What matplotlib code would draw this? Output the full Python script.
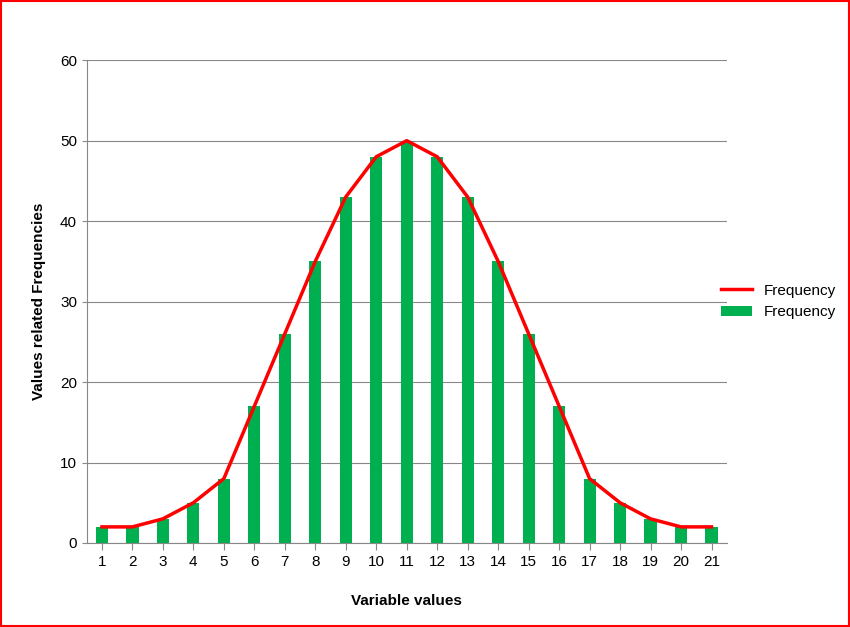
import numpy as np
import matplotlib.pyplot as plt

variable_values = list(range(1, 22))
frequency = [2, 2, 3, 5, 8, 17, 26, 35, 43, 48, 50, 48, 43, 35, 26, 17, 8, 5, 3, 2, 2]

plt.rcParams['font.family'] = ['Liberation Sans', 'DejaVu Sans']

fig = plt.figure(figsize=(8.5, 6.27), dpi=100)
fig.patches.append(plt.Rectangle((0.001, 0.001), 0.998, 0.998, transform=fig.transFigure,
                                 fill=False, edgecolor='red', linewidth=1.5))
ax = fig.add_axes([0.102, 0.134, 0.753, 0.770])

ax.bar(variable_values, frequency, width=0.4, color='#00b050', label='Frequency', zorder=2)
ax.plot(variable_values, frequency, color='red', linewidth=2.5, label='Frequency', zorder=3)

ax.set_xlim(0.5, 21.5)
ax.set_ylim(0, 60)
ax.set_xticks(variable_values)
ax.set_yticks(range(0, 61, 10))
ax.yaxis.grid(True, color='#888888', linewidth=0.8, zorder=0)
ax.set_axisbelow(True)
for s in ['top', 'right']:
    ax.spines[s].set_visible(False)
ax.spines['left'].set_color('#888888')
ax.spines['bottom'].set_color('#888888')
ax.tick_params(colors='#888888', labelcolor='black', labelsize=11)
ax.tick_params(axis='x', direction='out', length=5)

ax.set_xlabel('Variable values', fontsize=11, fontweight='bold', labelpad=18)
ax.set_ylabel('Values related Frequencies', fontsize=11, fontweight='bold', labelpad=10)

ax.legend(loc='center left', bbox_to_anchor=(0.97, 0.5), frameon=False, fontsize=11)

fig.savefig('out.png', dpi=100)
